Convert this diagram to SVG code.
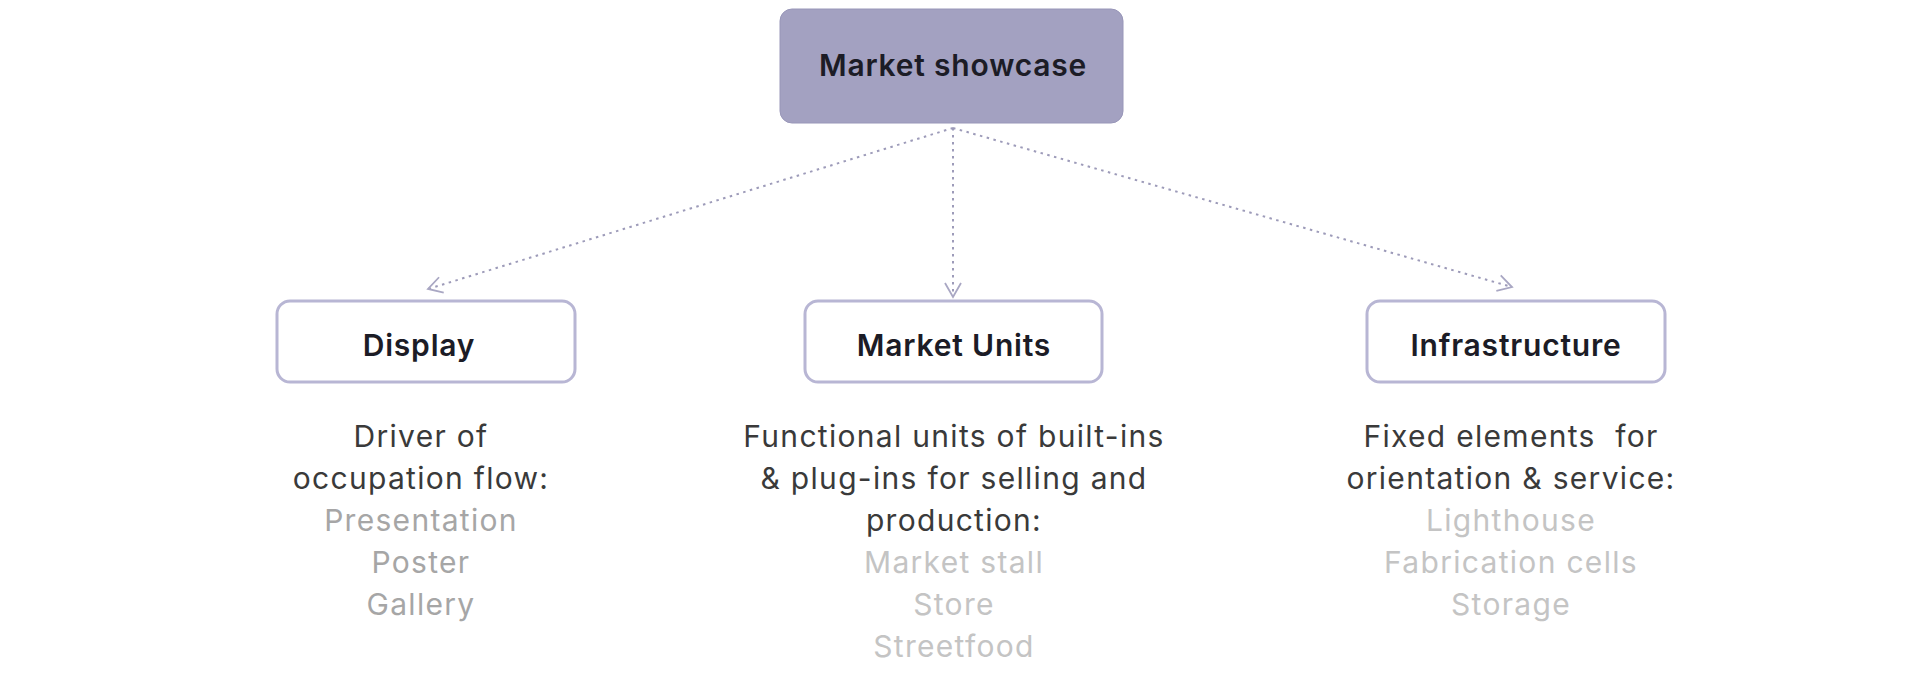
<svg xmlns="http://www.w3.org/2000/svg" width="1918" height="681" viewBox="0 0 1918 681">
<defs>
<style>
.title{font-family:Inter,"Liberation Sans",sans-serif;font-weight:600;font-size:30px;letter-spacing:0.8px;fill:#1c1c26;text-anchor:middle}
.desc{font-family:Inter,"Liberation Sans",sans-serif;font-weight:400;font-size:30px;letter-spacing:1.3px;text-anchor:middle}
.dark{fill:#3a3a3a}
.mid{fill:#a6a6a6}
.light{fill:#c4c4c4}
.box{fill:#ffffff;stroke:#b8b6d4;stroke-width:3}
.conn{fill:none;stroke:#9d9bb9;stroke-width:2;stroke-dasharray:2.5 4.5}
</style>
<marker id="arr" viewBox="0 0 20 20" refX="18" refY="10" markerWidth="20" markerHeight="20" markerUnits="userSpaceOnUse" orient="auto">
<path d="M4,2 L18,10 L4,18" fill="none" stroke="#a9a7c3" stroke-width="1.8"/>
</marker>
</defs>
<rect width="1918" height="681" fill="#ffffff"/>
<g id="connectors">
<path class="conn" d="M953,128 L428,289" marker-end="url(#arr)"/>
<path class="conn" d="M953,128 L953,297" marker-end="url(#arr)"/>
<path class="conn" d="M953,128 L1512,287" marker-end="url(#arr)"/>
</g>
<g id="market-showcase">
<rect x="780" y="9" width="343" height="114" rx="12" fill="#a3a1c1" stroke="#9896b8" stroke-width="1"/>
<text class="title" x="953" y="76" font-size="31" letter-spacing="1">Market showcase</text>
</g>
<g id="display">
<rect class="box" x="277" y="301" width="298" height="81" rx="13"/>
<text class="title" x="419" y="356">Display</text>
<text class="desc dark" x="421" y="447">Driver of</text>
<text class="desc dark" x="421" y="489">occupation flow:</text>
<text class="desc mid" x="421" y="531">Presentation</text>
<text class="desc mid" x="421" y="573">Poster</text>
<text class="desc mid" x="421" y="615">Gallery</text>
</g>
<g id="market-units">
<rect class="box" x="805" y="301" width="297" height="81" rx="13"/>
<text class="title" x="954" y="356">Market Units</text>
<text class="desc dark" x="954" y="447">Functional units of built-ins</text>
<text class="desc dark" x="954" y="489">&amp; plug-ins for selling and</text>
<text class="desc dark" x="954" y="531">production:</text>
<text class="desc light" x="954" y="573">Market stall</text>
<text class="desc light" x="954" y="615">Store</text>
<text class="desc light" x="954" y="657">Streetfood</text>
</g>
<g id="infrastructure">
<rect class="box" x="1367" y="301" width="298" height="81" rx="13"/>
<text class="title" x="1516" y="356">Infrastructure</text>
<text class="desc dark" x="1511" y="447" xml:space="preserve">Fixed elements  for</text>
<text class="desc dark" x="1511" y="489">orientation &amp; service:</text>
<text class="desc light" x="1511" y="531">Lighthouse</text>
<text class="desc light" x="1511" y="573">Fabrication cells</text>
<text class="desc light" x="1511" y="615">Storage</text>
</g>
</svg>
